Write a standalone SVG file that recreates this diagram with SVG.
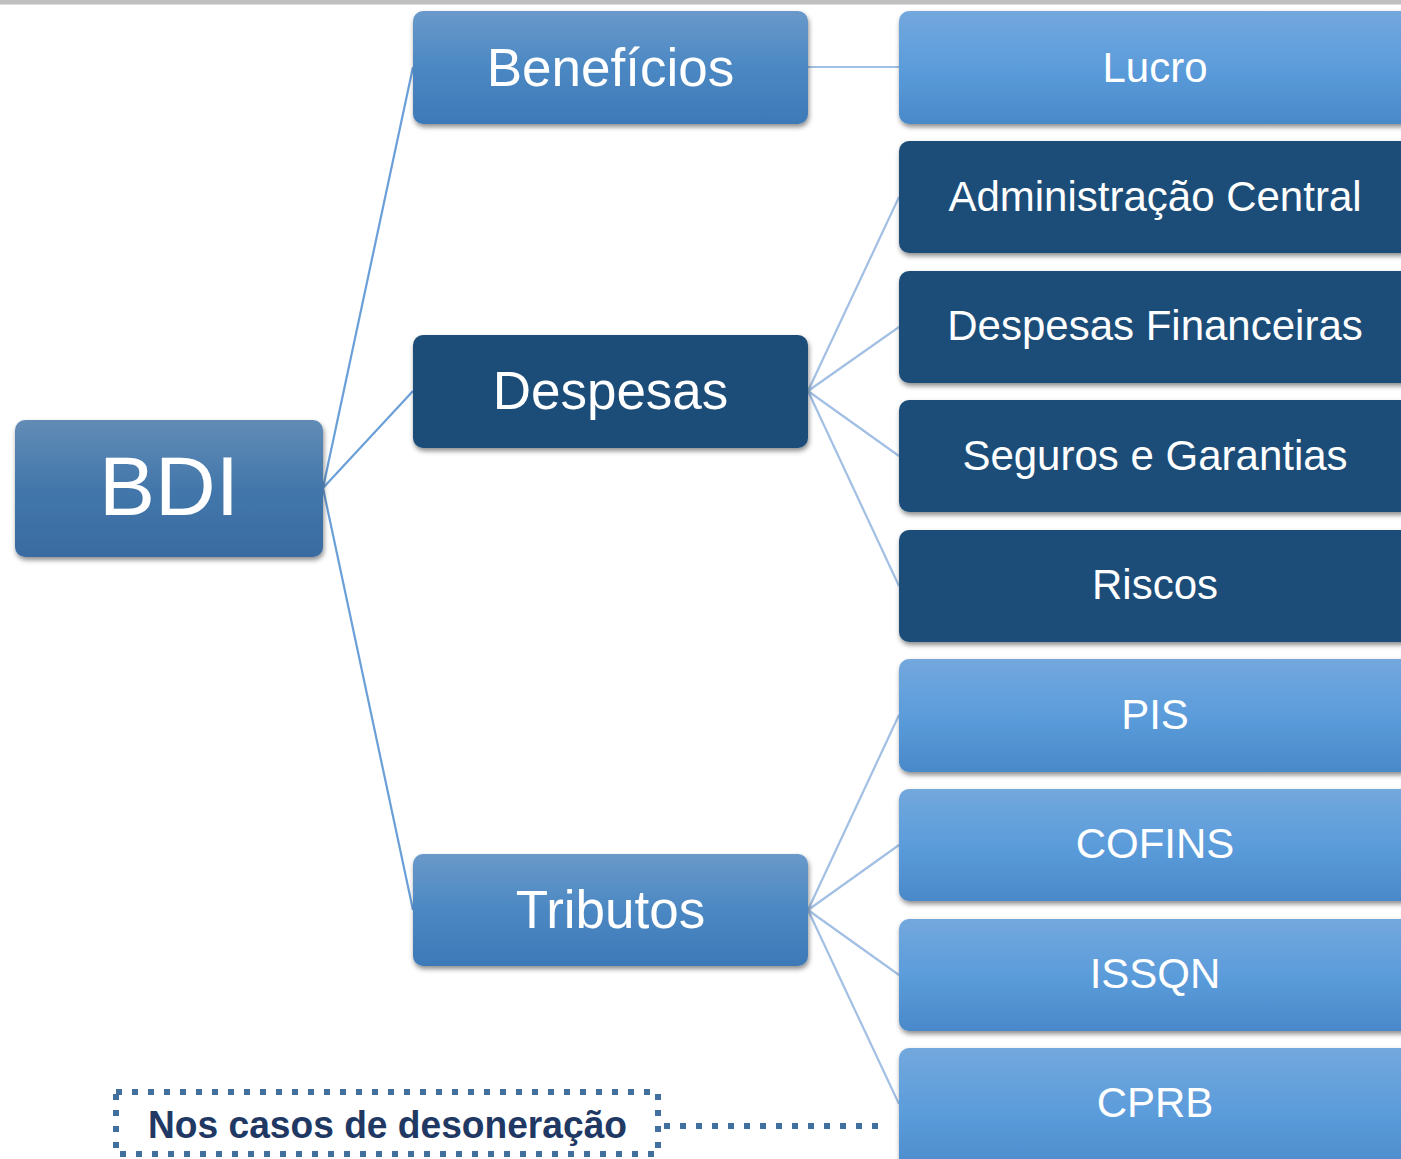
<svg xmlns="http://www.w3.org/2000/svg" width="1401" height="1159" viewBox="0 0 1401 1159">
<style>
.t{font-family:"Liberation Sans",Arial,sans-serif;fill:#ffffff;text-anchor:middle}
.c1{stroke:#6a9fd8;stroke-width:2.2;fill:none}
.c2{stroke:#a2c0e4;stroke-width:2.2;fill:none}
.dot{stroke:#41709f;stroke-width:6;stroke-dasharray:6 10;fill:none}
</style>
<defs>
<linearGradient id="gRoot" x1="0" y1="0" x2="0" y2="1">
<stop offset="0" stop-color="#628cb6"/><stop offset="0.5" stop-color="#4377ab"/><stop offset="1" stop-color="#3a6ba0"/>
</linearGradient>
<linearGradient id="gMid" x1="0" y1="0" x2="0" y2="1">
<stop offset="0" stop-color="#6a99ca"/><stop offset="0.5" stop-color="#4b88c3"/><stop offset="1" stop-color="#3d79b7"/>
</linearGradient>
<linearGradient id="gLeaf" x1="0" y1="0" x2="0" y2="1">
<stop offset="0" stop-color="#73a8dd"/><stop offset="0.5" stop-color="#5b9cdb"/><stop offset="1" stop-color="#4a89c9"/>
</linearGradient>
<filter id="sh" x="-10%" y="-20%" width="120%" height="150%">
<feDropShadow dx="1" dy="3" stdDeviation="2.5" flood-color="#000" flood-opacity="0.45"/>
</filter>
</defs>
<rect x="0" y="0" width="1401" height="4.5" fill="#bfbfbf"/>
<g id="connectors">
<line class="c1" x1="323" y1="488" x2="413" y2="67"/>
<line class="c1" x1="323" y1="488" x2="413" y2="391"/>
<line class="c1" x1="323" y1="488" x2="413" y2="910"/>
<line class="c2" x1="808" y1="67" x2="899" y2="67"/>
<line class="c2" x1="808" y1="391" x2="899" y2="197"/>
<line class="c2" x1="808" y1="391" x2="899" y2="327"/>
<line class="c2" x1="808" y1="391" x2="899" y2="456"/>
<line class="c2" x1="808" y1="391" x2="899" y2="586"/>
<line class="c2" x1="808" y1="910" x2="899" y2="715"/>
<line class="c2" x1="808" y1="910" x2="899" y2="845"/>
<line class="c2" x1="808" y1="910" x2="899" y2="975"/>
<line class="c2" x1="808" y1="910" x2="899" y2="1104"/>
<line class="dot" x1="664" y1="1126" x2="884" y2="1126"/>
</g>
<g id="bdi"><rect x="15" y="420" width="308" height="137" rx="10" fill="url(#gRoot)" filter="url(#sh)"/><text class="t" x="169" y="515" font-size="84">BDI</text></g>
<g id="beneficios"><rect x="413" y="11" width="395" height="113" rx="10" fill="url(#gMid)" filter="url(#sh)"/><text class="t" x="610.5" y="86" font-size="53">Benefícios</text></g>
<g id="despesas"><rect x="413" y="335" width="395" height="113" rx="10" fill="#1f4e79" filter="url(#sh)"/><text class="t" x="610.5" y="409" font-size="53">Despesas</text></g>
<g id="tributos"><rect x="413" y="854" width="395" height="112" rx="10" fill="url(#gMid)" filter="url(#sh)"/><text class="t" x="610.5" y="928" font-size="53">Tributos</text></g>
<g id="lucro"><rect x="899" y="11" width="520" height="113" rx="10" fill="url(#gLeaf)" filter="url(#sh)"/><text class="t" x="1155" y="82" font-size="42">Lucro</text></g>
<g id="admin"><rect x="899" y="141" width="520" height="112" rx="10" fill="#1f4e79" filter="url(#sh)"/><text class="t" x="1155" y="211" font-size="42">Administração Central</text></g>
<g id="despfin"><rect x="899" y="271" width="520" height="112" rx="10" fill="#1f4e79" filter="url(#sh)"/><text class="t" x="1155" y="340" font-size="42">Despesas Financeiras</text></g>
<g id="seguros"><rect x="899" y="400" width="520" height="112" rx="10" fill="#1f4e79" filter="url(#sh)"/><text class="t" x="1155" y="470" font-size="42">Seguros e Garantias</text></g>
<g id="riscos"><rect x="899" y="530" width="520" height="112" rx="10" fill="#1f4e79" filter="url(#sh)"/><text class="t" x="1155" y="599" font-size="42">Riscos</text></g>
<g id="pis"><rect x="899" y="659" width="520" height="113" rx="10" fill="url(#gLeaf)" filter="url(#sh)"/><text class="t" x="1155" y="729" font-size="42">PIS</text></g>
<g id="cofins"><rect x="899" y="789" width="520" height="112" rx="10" fill="url(#gLeaf)" filter="url(#sh)"/><text class="t" x="1155" y="858" font-size="42">COFINS</text></g>
<g id="issqn"><rect x="899" y="919" width="520" height="112" rx="10" fill="url(#gLeaf)" filter="url(#sh)"/><text class="t" x="1155" y="988" font-size="42">ISSQN</text></g>
<g id="cprb"><rect x="899" y="1048" width="520" height="130" rx="10" fill="url(#gLeaf)" filter="url(#sh)"/><text class="t" x="1155" y="1117" font-size="42">CPRB</text></g>
<g id="note"><rect class="dot" x="116" y="1092" width="542" height="62"/><text x="148" y="1138" font-family="Liberation Sans, Arial, sans-serif" font-weight="bold" font-size="38" fill="#1f3864" textLength="479" lengthAdjust="spacingAndGlyphs">Nos casos de desoneração</text></g>
</svg>
